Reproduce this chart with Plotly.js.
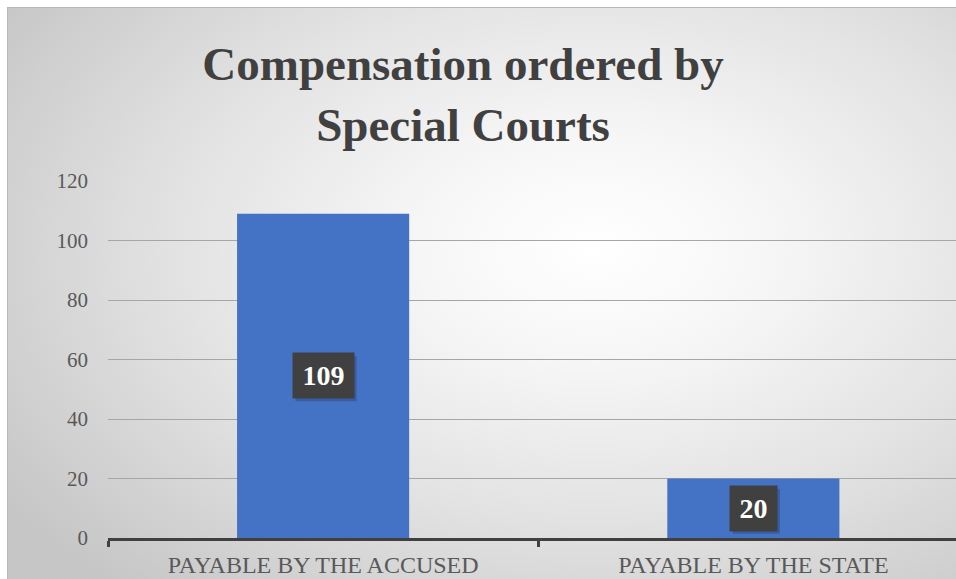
<!DOCTYPE html>
<html>
<head>
<meta charset="utf-8">
<script src="https://cdn.plot.ly/plotly-3.0.1.min.js"></script>
<style>
  html, body { margin: 0; padding: 0; background: #ffffff; }
  #bg { position: absolute; left: 7px; top: 7px; width: 949px; height: 572px;
        border-top: 1px solid #b8b8b8; border-left: 1px solid #b8b8b8; box-sizing: border-box;
        background: radial-gradient(ellipse 75% 80% at 62% 42%, #ffffff 0%, #f6f6f6 25%, #e2e2e2 60%, #c6c6c6 100%); }
  #chart { position: absolute; left: 0; top: 0; width: 956px; height: 579px; }
</style>
</head>
<body>
<div id="bg"></div>
<div id="chart"></div>
<script>
const categories = ["PAYABLE BY THE ACCUSED", "PAYABLE BY THE STATE"];
const values = [109, 20];
const titleText = "Compensation ordered by<br>Special Courts";

const serif = 'Liberation Serif, DejaVu Serif, serif';

const trace = {
  type: 'bar',
  x: categories,
  y: values,
  width: 0.4,
  marker: { color: '#4472C4' },
  hoverinfo: 'x+y'
};

const annotations = [];
const shapes = [];
categories.forEach((c, i) => {
  const label = String(values[i]);
  const w = label.length * 14 + 1;
  const pad = 9;
  const halfW = w / 2 + pad, halfH = 22.5;
  // soft drop shadow behind the label box
  shapes.push({
    type: 'rect', layer: 'above',
    xref: 'x', yref: 'y',
    xsizemode: 'pixel', ysizemode: 'pixel',
    xanchor: c, yanchor: values[i] / 2,
    x0: -halfW + 3, x1: halfW + 3, y0: -halfH - 3, y1: halfH - 3,
    fillcolor: 'rgba(0,0,0,0.18)', line: { width: 0 }
  });
  annotations.push({
    x: c, y: values[i] / 2, xref: 'x', yref: 'y',
    text: '<b>' + label + '</b>', showarrow: false,
    font: { family: serif, size: 28, color: '#ffffff' },
    width: w, height: 27, borderpad: pad,
    bgcolor: '#404040'
  });
});

const layout = {
  width: 956, height: 579,
  paper_bgcolor: 'rgba(0,0,0,0)',
  plot_bgcolor: 'rgba(0,0,0,0)',
  margin: { l: 108, r: 0, t: 181, b: 41 },
  title: {
    text: '<b>' + titleText + '</b>',
    font: { family: serif, size: 47, color: '#404040' },
    x: 463 / 956, xanchor: 'center',
    y: 0.862, yanchor: 'middle'
  },
  showlegend: false,
  xaxis: {
    type: 'category',
    range: [-0.5, 1.471],
    showline: true, linecolor: '#404040', linewidth: 3,
    ticks: 'outside', tickson: 'boundaries', ticklen: 6, tickwidth: 3, tickcolor: '#404040',
    tickfont: { family: serif, size: 24, color: '#595959' },
    showgrid: false, zeroline: false,
    ticklabelstandoff: 3,
    fixedrange: true
  },
  yaxis: {
    range: [0, 120], dtick: 20, tick0: 0,
    showgrid: true, gridcolor: '#a6a6a6', gridwidth: 1,
    zeroline: false, showline: false,
    tickfont: { family: serif, size: 21, color: '#595959' },
    ticklabelstandoff: 19,
    fixedrange: true
  },
  shapes: shapes,
  annotations: annotations
};

Plotly.newPlot('chart', [trace], layout, { displayModeBar: false, staticPlot: true });
</script>
</body>
</html>
